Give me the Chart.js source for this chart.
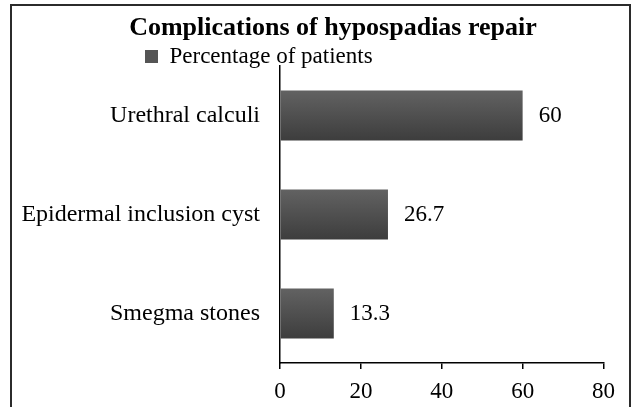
<!DOCTYPE html>
<html>
<head>
<meta charset="utf-8">
<script src="https://cdn.jsdelivr.net/npm/chart.js@4.4.1/dist/chart.umd.min.js"></script>
<style>
  html, body { margin: 0; padding: 0; background: #fff; }
  #wrap { position: relative; width: 633px; height: 407px; overflow: hidden; }
  #frame { position: absolute; left: 10px; top: 4px; width: 621px; height: 430px;
           border: 2px solid #2b2b2b; box-sizing: border-box; pointer-events: none; }
  canvas { position: absolute; left: 0; top: 0; }
</style>
</head>
<body>
<div id="wrap">
  <canvas id="chart" width="633" height="407"></canvas>
  <div id="frame"></div>
</div>
<script>
// values
const categories = ["Urethral calculi", "Epidermal inclusion cyst", "Smegma stones"];
const percentages = [60, 26.7, 13.3];
const seriesName = "Percentage of patients";
const xTicks = [0, 20, 40, 60, 80];

const SERIF = "'Liberation Serif', 'Times New Roman', serif";

// bar fill: soft vertical gradient like the original office chart
function barFill(c) {
    const chart = c.chart;
    const ys = chart.scales.y;
    if (!chart.chartArea || !ys || c.dataIndex === undefined) return "#505050";
    const yc = ys.getPixelForValue(c.dataIndex);
    const half = ys.height / categories.length * 0.505 / 2;
    const g = chart.ctx.createLinearGradient(0, yc - half, 0, yc + half);
    g.addColorStop(0, "#626262");
    g.addColorStop(1, "#3d3d3d");
    return g;
}

// numbers at the end of each bar
const valueLabels = {
    id: "valueLabels",
    afterDatasetsDraw(chart) {
        const ctx = chart.ctx;
        const meta = chart.getDatasetMeta(0);
        ctx.save();
        ctx.font = "23px " + SERIF;
        ctx.fillStyle = "#000";
        ctx.textAlign = "left";
        ctx.textBaseline = "middle";
        meta.data.forEach((bar, i) => {
            ctx.fillText(String(percentages[i]), bar.x + 16, bar.y);
        });
        ctx.restore();
    },
};

// title and legend sit off-centre in the original
const headerPlacement = {
    id: "headerPlacement",
    afterLayout(chart) {
        const t = chart.titleBlock;
        if (t) {
            const dx = 333 - (t.left + t.right) / 2;
            t.left += dx;
            t.right += dx;
        }
        const l = chart.legend;
        if (l && l.lineWidths) {
            const dx = 145 - (l.left + l.right - l.lineWidths[0]) / 2;
            l.left += dx;
            l.right += dx;
            const dy = 45 - l.top;
            l.top += dy;
            l.bottom += dy;
        }
    },
};

new Chart(document.getElementById("chart"), {
    type: "bar",
    data: {
        labels: categories,
        datasets: [
            {
                label: seriesName,
                data: percentages,
                backgroundColor: barFill,
                borderWidth: 0,
                categoryPercentage: 1,
                barPercentage: 0.505,
            },
        ],
    },
    options: {
        indexAxis: "y",
        responsive: false,
        animation: false,
        devicePixelRatio: 1,
        layout: { padding: { left: 0, right: 29.5, top: 0, bottom: 0 } },
        plugins: {
            title: {
                display: true,
                text: "Complications of hypospadias repair",
                color: "#000",
                font: { family: SERIF, size: 26, weight: "bold", lineHeight: 1.2 },
                padding: { top: 13, bottom: -11.2 },
            },
            legend: {
                display: true,
                position: "top",
                labels: {
                    color: "#000",
                    font: { family: SERIF, size: 23 },
                    boxWidth: 13,
                    boxHeight: 13,
                    padding: 0,
                    generateLabels: () => [
                        { text: seriesName, fillStyle: "#555555", strokeStyle: "#555555", lineWidth: 0, datasetIndex: 0 },
                    ],
                },
            },
            tooltip: { enabled: false },
        },
        scales: {
            x: {
                min: 0,
                max: 80,
                afterBuildTicks: (s) => { s.ticks = xTicks.map((v) => ({ value: v })); },
                afterFit: (s) => { s.height = 44; },
                grid: { display: true, drawOnChartArea: false, drawTicks: true, tickLength: 6, color: "#000", lineWidth: 1.5 },
                border: { display: true, color: "#000", width: 1.5 },
                ticks: { color: "#000", padding: 9, font: { family: SERIF, size: 23 } },
            },
            y: {
                afterFit: (s) => { s.width = 280; },
                grid: { display: false, drawTicks: false },
                border: { display: true, color: "#000", width: 1.5 },
                ticks: { color: "#000", padding: 20, font: { family: SERIF, size: 24 } },
            },
        },
    },
    plugins: [valueLabels, headerPlacement],
});
</script>
</body>
</html>
